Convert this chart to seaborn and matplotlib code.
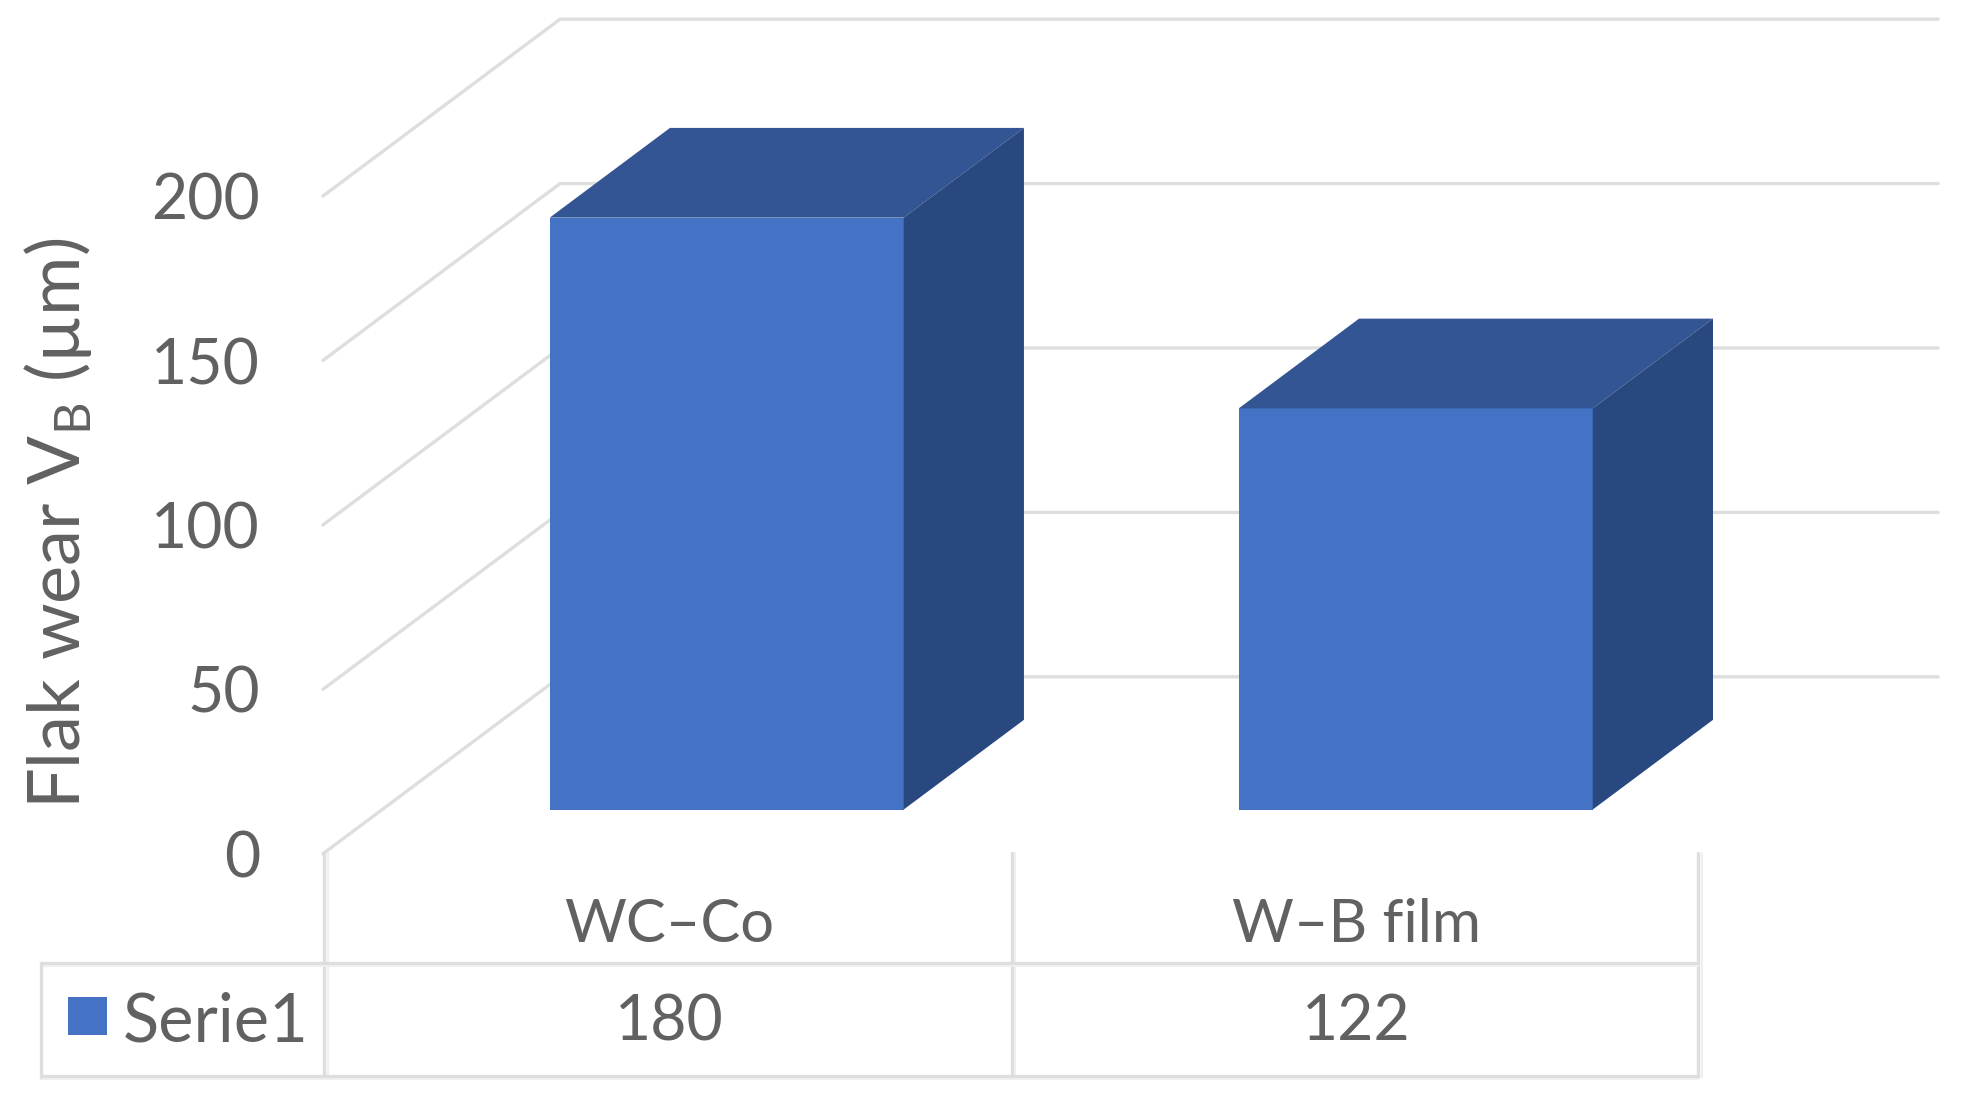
import matplotlib
matplotlib.use('Agg')
import matplotlib.pyplot as plt
from matplotlib.lines import Line2D
from matplotlib.patches import Polygon, Rectangle
import pandas as pd
import seaborn as sns

# Data
categories = ['WC–Co', 'W–B film']
values = [180, 122]
series_name = 'Serie1'
y_ticks = [0, 50, 100, 150, 200]

sns.set_theme(style='white')
plt.rcParams['font.family'] = ['Lato', 'DejaVu Sans']
plt.rcParams['mathtext.fontset'] = 'custom'
plt.rcParams['mathtext.rm'] = 'Lato'

FRONT = '#4472C4'
TOP = '#335593'
SIDE = '#2A4880'
GRID = '#DEDEDE'
TEXT = '#616161'

# layout is measured on the 1568x878 view of the picture
W, H = 1568, 878
UNIT_X = 549
UNIT_Y = 2.62
DX = 189 / UNIT_X
DY = 141 / UNIT_Y
BAR_FRONT = 0.25
BAR_BACK = 0.757


def fx(px):
    return px / W


def fy(py):
    return 1 - py / H


def project(x, v, d):
    # x and v on the floor plane, d is depth from the front edge (0) to the wall (1)
    return x + (d - BAR_FRONT) * DX, v + (d - BAR_FRONT) * DY


fig = plt.figure(figsize=(19.68, 11.02), dpi=100)
ax = fig.add_axes([fx(304.5), fy(645), 1098 / W, 524 / H])

df = pd.DataFrame({'category': categories, 'value': values})
sns.barplot(data=df, x='category', y='value', color=FRONT, saturation=1,
            width=282 / UNIT_X, linewidth=0, zorder=3, ax=ax)
ax.set_xlim(-0.5, 1.5)
ax.set_ylim(0, 200)
ax.axis('off')

# walls
for v in y_ticks:
    a = project(-0.5, v, 0)
    b = project(-0.5, v, 1)
    c = project(1.5, v, 1)
    ax.plot([a[0], b[0], c[0]], [a[1], b[1], c[1]], color=GRID, lw=2.4,
            zorder=1, clip_on=False, solid_joinstyle='miter')
    ax.text(-0.5 - (258 - 208) / UNIT_X - BAR_FRONT * DX, a[1], str(v), ha='right',
            va='center_baseline', fontsize=45, color=TEXT)

# 3d faces of each bar
depth = BAR_BACK - BAR_FRONT
for bar in ax.patches:
    x0 = bar.get_x()
    x1 = x0 + bar.get_width()
    h = bar.get_height()
    ox, oy = depth * DX, depth * DY
    ax.add_patch(Polygon([(x0, h), (x1, h), (x1 + ox, h + oy), (x0 + ox, h + oy)],
                         facecolor=TOP, edgecolor='none', zorder=4, clip_on=False))
    ax.add_patch(Polygon([(x1, 0), (x1, h), (x1 + ox, h + oy), (x1 + ox, oy)],
                         facecolor=SIDE, edgecolor='none', zorder=4, clip_on=False))

# data table
col_x = [258, 806, 1353]
for px in col_x:
    fig.add_artist(Line2D([fx(px), fx(px)], [fy(680), fy(858)], color=GRID, lw=2.4))
    fig.add_artist(Line2D([fx(px + 3), fx(px + 3)], [fy(680), fy(858)], color='#EFEFEF', lw=1.5))
for py in [767, 857]:
    fig.add_artist(Line2D([fx(33), fx(1353)], [fy(py), fy(py)], color=GRID, lw=2.4))
    fig.add_artist(Line2D([fx(33), fx(1353)], [fy(py + 3), fy(py + 3)], color='#EFEFEF', lw=1.5))
fig.add_artist(Line2D([fx(33), fx(33)], [fy(767), fy(858)], color=GRID, lw=2.4))

fig.add_artist(Rectangle((fx(54), fy(825)), 31 / W, 31 / H, transform=fig.transFigure,
                         facecolor=FRONT, edgecolor='none'))
fig.text(fx(98), fy(810), series_name, ha='left', va='center_baseline', fontsize=48, color=TEXT)

for i, (cat, val) in enumerate(zip(categories, values)):
    cx = (col_x[i] + col_x[i + 1]) / 2
    fig.text(fx(cx + 1), fy(733), cat, ha='center', va='center_baseline', fontsize=43, color=TEXT)
    fig.text(fx(cx + 1), fy(810), str(val), ha='center', va='center_baseline', fontsize=45, color=TEXT)

fig.text(fx(46), fy(417), r'Flak wear V$_{\mathrm{B}}$ (µm)', rotation=90, ha='center',
         va='center', fontsize=52, color=TEXT)

fig.savefig('out.png', dpi=100, facecolor='white')
